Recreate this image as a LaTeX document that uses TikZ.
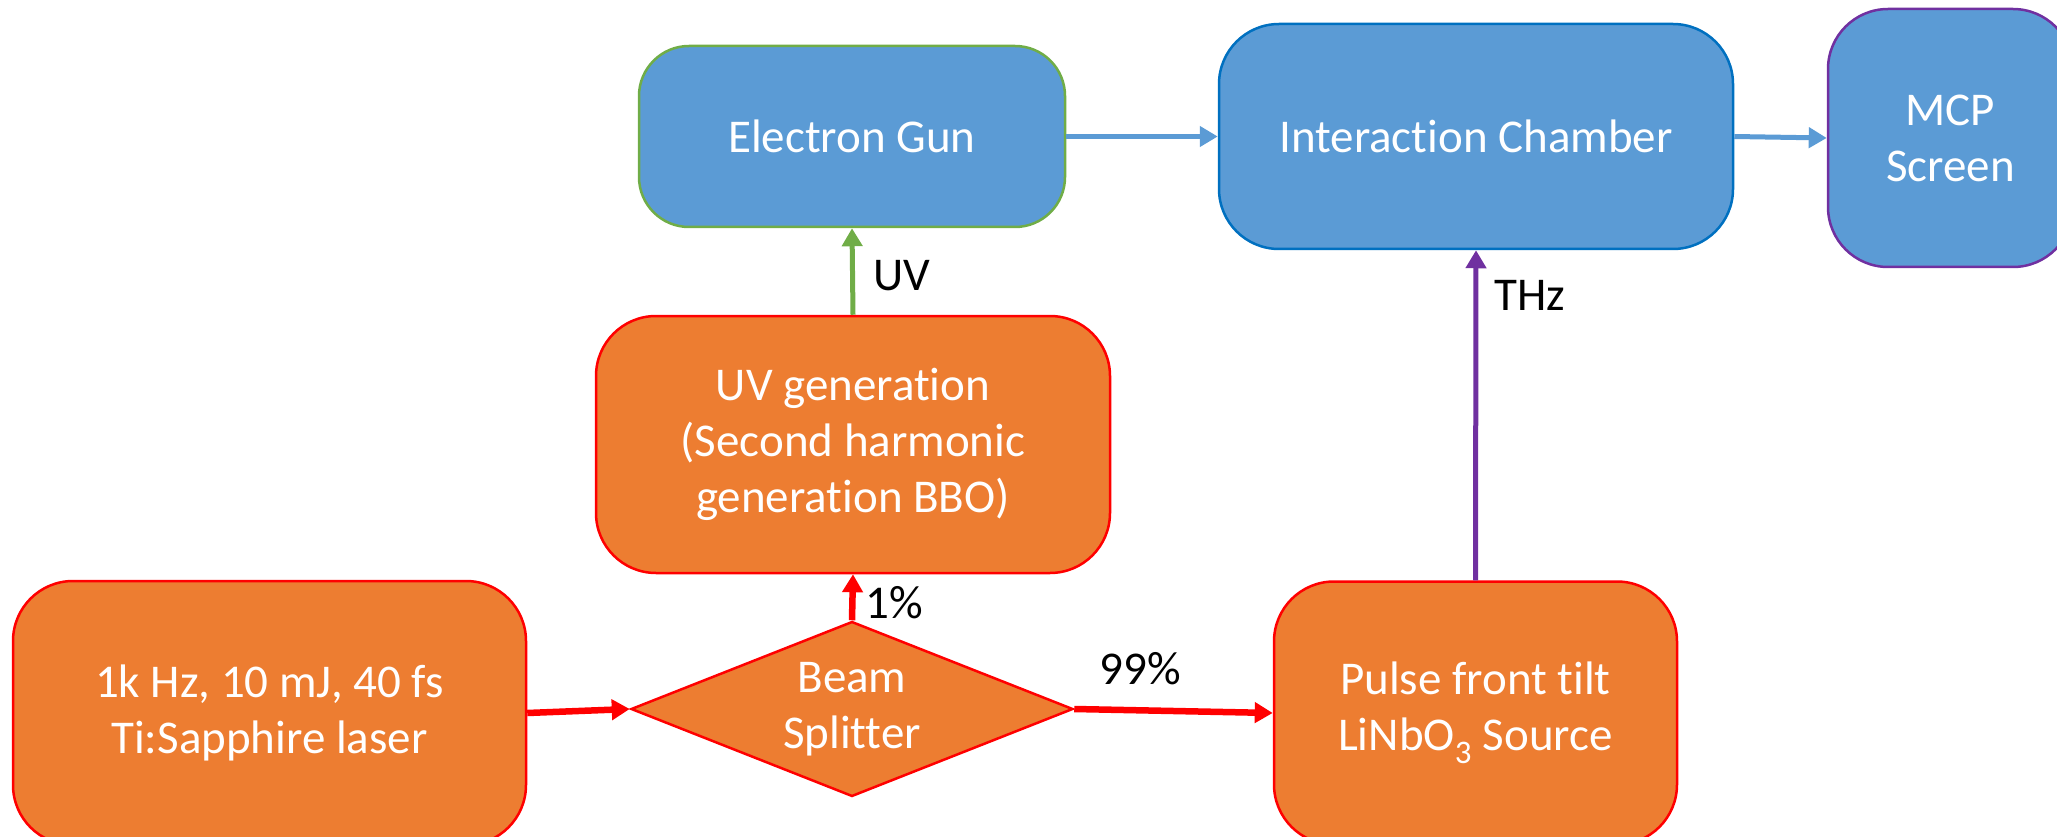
\documentclass[tikz,border=0pt]{standalone}
\usepackage{fontspec}
\setmainfont{Carlito}[Ligatures=NoCommon]
\usetikzlibrary{arrows.meta,shapes.geometric}
\definecolor{orfill}{HTML}{ED7D31}
\definecolor{blfill}{HTML}{5B9BD5}
\definecolor{redline}{HTML}{FF0000}
\definecolor{grnline}{HTML}{70AD47}
\definecolor{bluline}{HTML}{0070C0}
\definecolor{purline}{HTML}{7030A0}
\tikzset{
  big/.style={font=\fontsize{47}{56}\selectfont},
  box/.style={big, rectangle, rounded corners=#1, inner sep=0pt, align=center, text=white, line width=2.5pt},
  orbox/.style={box=60pt, fill=orfill, draw=redline},
  blbox/.style={box=60pt, fill=blfill},
  lbl/.style={big, text=black, inner sep=0pt},
  conn/.style={line width=5pt, -{Triangle[length=18pt,width=20pt]}},
}
\begin{document}
\begin{tikzpicture}[x=1pt,y=-1pt]
\useasboundingbox (0,0) rectangle (2057,837);
\node[orbox, minimum width=513pt, minimum height=264pt] (laser) at (269.5,713) {1k Hz, 10 mJ, 40 fs\\Ti:Sapphire laser};
\node[big, diamond, fill=orfill, draw=redline, line width=2.5pt, inner sep=0pt, aspect=2.53, minimum width=442pt, minimum height=175pt, align=center, text=white] (bs) at (852,709) {Beam\\Splitter};
\node[orbox, minimum width=514pt, minimum height=257pt] (uv) at (853,444.5) {UV generation\\(Second harmonic\\generation BBO)};
\node[orbox, minimum width=403pt, minimum height=263pt] (pulse) at (1475.5,713) {Pulse front tilt\\ LiNbO\textsubscript{3} Source};
\node[box=50pt, fill=blfill, draw=grnline, minimum width=426pt, minimum height=181pt] (eg) at (852,136.5) {Electron Gun};
\node[blbox, draw=bluline, minimum width=514pt, minimum height=225pt] (ic) at (1476,136.5) {Interaction Chamber};
\node[blbox, draw=purline, minimum width=245pt, minimum height=258pt] (mcp) at (1950.5,138) {MCP\\Screen};

\draw[conn, redline, line width=6.5pt] (laser.east) -- (bs.west);
\draw[conn, redline, line width=6.5pt] (bs.east) -- (pulse.west);
\draw[conn, redline, line width=6.5pt] (bs.north) -- (uv.south);
\draw[conn, grnline] (uv.north) -- (eg.south);
\draw[conn, purline] (pulse.north) -- (ic.south);
\draw[conn, blfill] (eg.east) -- (ic.west);
\draw[conn, blfill] (ic.east) -- (mcp.west);

\node[lbl] (l1) at (894,603) {1\%};
\node[lbl] (l99) at (1140,669) {99\%};
\node[lbl] (luv) at (902,276) {UV};
\node[lbl] (lthz) at (1530,295) {THz};
\end{tikzpicture}
\end{document}
